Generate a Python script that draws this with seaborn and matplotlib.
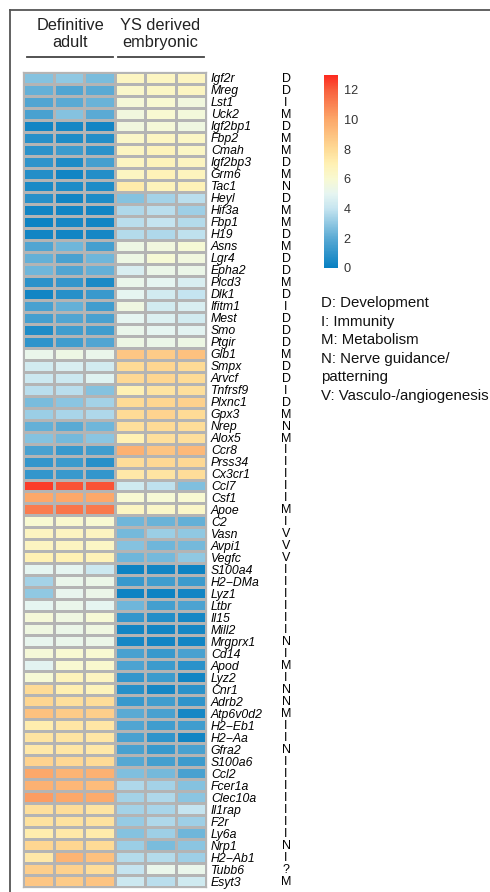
import numpy as np
import pandas as pd
import matplotlib
matplotlib.use("Agg")
import matplotlib.pyplot as plt
import seaborn as sns
from matplotlib.colors import LinearSegmentedColormap
from matplotlib.lines import Line2D
from matplotlib.transforms import blended_transform_factory
from matplotlib import font_manager

genes = ["Igf2r", "Mreg", "Lst1", "Uck2", "Igf2bp1", "Fbp2", "Cmah", "Igf2bp3", "Grm6", "Tac1",
         "Heyl", "Hif3a", "Fbp1", "H19", "Asns", "Lgr4", "Epha2", "Plcd3", "Dlk1", "Ifitm1",
         "Mest", "Smo", "Ptgir", "Glb1", "Smpx", "Arvcf", "Tnfrsf9", "Plxnc1", "Gpx3", "Nrep",
         "Alox5", "Ccr8", "Prss34", "Cx3cr1", "Ccl7", "Csf1", "Apoe", "C2", "Vasn", "Avpi1",
         "Vegfc", "S100a4", "H2\u2212DMa", "Lyz1", "Ltbr", "Il15", "Mill2", "Mrgprx1", "Cd14", "Apod",
         "Lyz2", "Cnr1", "Adrb2", "Atp6v0d2", "H2\u2212Eb1", "H2\u2212Aa", "Gfra2", "S100a6", "Ccl2", "Fcer1a",
         "Clec10a", "Il1rap", "F2r", "Ly6a", "Nrp1", "H2\u2212Ab1", "Tubb6", "Esyt3"]

categories = ["D", "D", "I", "M", "D", "M", "M", "D", "M", "N",
              "D", "M", "M", "D", "M", "D", "D", "M", "D", "I",
              "D", "D", "D", "M", "D", "D", "I", "D", "M", "N",
              "M", "I", "I", "I", "I", "I", "M", "I", "V", "V",
              "V", "I", "I", "I", "I", "I", "I", "N", "I", "M",
              "I", "N", "N", "M", "I", "I", "N", "I", "I", "I",
              "I", "I", "I", "I", "N", "I", "?", "M"]

definitive_adult = [
    [2.8, 3.0, 2.6], [2.2, 1.8, 2.0], [1.8, 2.0, 2.3], [1.6, 2.8, 2.0], [0.3, 0.4, 0.3],
    [0.8, 0.6, 0.7], [0.9, 1.3, 0.9], [1.0, 0.6, 1.5], [0.7, 0.3, 0.7], [0.5, 0.6, 0.6],
    [0.8, 0.3, 0.6], [0.3, 0.3, 0.3], [0.2, 0.4, 0.3], [0.3, 0.3, 0.4], [1.8, 2.4, 1.5],
    [2.2, 1.6, 2.4], [2.4, 1.8, 2.2], [0.9, 1.1, 0.5], [0.3, 0.8, 1.2], [1.6, 2.2, 1.4],
    [1.5, 1.8, 1.6], [0.6, 1.4, 1.4], [1.0, 1.4, 1.8], [5.2, 5.4, 5.2], [4.4, 4.6, 4.4],
    [4.2, 4.2, 4.8], [3.8, 3.8, 2.8], [2.6, 2.9, 3.4], [3.2, 3.5, 3.6], [2.2, 2.0, 2.4],
    [2.8, 2.5, 2.9], [1.6, 1.2, 1.4], [1.1, 1.3, 0.8], [1.1, 1.2, 1.1], [12.6, 12.2, 12.2],
    [10.0, 10.0, 10.0], [11.2, 11.4, 11.3], [6.0, 6.1, 6.0], [6.6, 6.6, 6.6], [6.6, 6.6, 6.4],
    [7.0, 7.0, 6.9], [5.0, 5.0, 4.2], [3.4, 5.2, 5.3], [3.0, 5.1, 5.3], [5.0, 5.2, 5.0],
    [5.8, 5.5, 5.9], [5.5, 5.3, 5.5], [5.1, 5.2, 5.3], [5.8, 6.0, 6.0], [4.9, 6.0, 6.1],
    [5.9, 6.8, 6.6], [8.0, 7.1, 6.8], [8.2, 7.8, 7.9], [9.0, 8.6, 8.5], [7.2, 7.5, 7.5],
    [7.6, 7.6, 7.5], [7.4, 7.5, 7.4], [8.3, 8.1, 8.0], [10.0, 9.5, 9.6], [9.6, 9.4, 9.2],
    [10.3, 10.0, 9.9], [7.8, 7.9, 7.6], [7.7, 7.7, 7.7], [7.2, 7.4, 7.3], [8.2, 8.2, 8.0],
    [7.4, 9.5, 9.0], [8.5, 8.4, 7.9], [8.8, 8.6, 8.9]]

ys_embryonic = [
    [6.5, 6.5, 6.6], [6.2, 6.4, 6.5], [5.8, 6.0, 5.6], [5.6, 6.0, 5.7], [5.6, 5.8, 5.5],
    [6.3, 6.5, 6.4], [6.5, 6.8, 6.4], [6.5, 6.8, 6.6], [6.5, 6.9, 6.7], [7.3, 6.8, 6.9],
    [2.8, 3.4, 3.8], [3.6, 3.8, 3.3], [3.8, 4.0, 3.7], [3.7, 3.6, 3.9], [5.4, 5.6, 5.9],
    [5.4, 5.9, 5.6], [4.6, 5.3, 5.3], [5.2, 5.0, 4.6], [5.0, 4.4, 4.0], [5.5, 4.4, 4.6],
    [5.0, 4.7, 4.4], [5.2, 5.0, 4.9], [5.4, 5.3, 5.4], [8.8, 8.6, 9.0], [8.0, 8.2, 8.0],
    [8.1, 8.2, 8.0], [7.0, 7.6, 7.8], [8.0, 8.2, 8.4], [8.0, 8.3, 8.0], [7.8, 8.0, 7.9],
    [7.0, 7.8, 7.8], [9.6, 8.9, 9.3], [7.9, 8.1, 8.1], [7.4, 7.6, 7.9], [4.3, 3.9, 2.7],
    [6.0, 5.9, 6.0], [6.5, 6.3, 6.3], [2.4, 2.3, 2.2], [2.5, 3.2, 3.0], [2.8, 2.4, 2.5],
    [2.4, 2.5, 3.0], [0.2, 0.3, 0.2], [1.2, 1.4, 1.3], [0.2, 0.2, 0.3], [2.4, 1.5, 1.7],
    [1.1, 0.7, 0.4], [0.3, 0.3, 0.4], [0.4, 0.3, 0.3], [1.6, 1.2, 1.6], [1.7, 1.3, 0.9],
    [1.1, 1.3, 0.3], [0.8, 0.4, 0.9], [1.2, 1.4, 1.0], [2.0, 1.6, 0.4], [1.8, 1.4, 1.4],
    [1.6, 1.0, 0.3], [1.6, 1.2, 1.6], [1.9, 1.5, 1.3], [2.7, 2.5, 1.6], [3.6, 3.4, 2.8],
    [3.4, 3.6, 2.9], [3.4, 3.5, 4.0], [3.1, 3.6, 3.3], [2.8, 3.3, 2.4], [3.2, 2.6, 2.9],
    [3.7, 3.7, 3.3], [4.0, 5.2, 5.2], [4.2, 3.8, 4.3]]

group_labels = ["Definitive\nadult", "YS derived\nembryonic"]
legend_lines = ["D: Development", "I: Immunity", "M: Metabolism",
                "N: Nerve guidance/", "patterning", "V: Vasculo-/angiogenesis"]
cbar_ticks = [0, 2, 4, 6, 8, 10, 12]

plt.rcParams['font.family'] = ['Liberation Sans', 'DejaVu Sans']

installed = {f.name for f in font_manager.fontManager.ttflist}
narrow = "Liberation Sans Narrow" in installed
label_family = ['Liberation Sans Narrow', 'Liberation Sans'] if narrow else ['Liberation Sans']
gene_size = 9.8 if narrow else 8.8
cat_size = 10.8 if narrow else 9.0

W, H = 490, 892
fig = plt.figure(figsize=(W / 100, H / 100), dpi=100)

def fx(px):
    return px / W

def fy(py):
    return 1 - py / H

mat = np.hstack([np.array(definitive_adult), np.array(ys_embryonic)])
df = pd.DataFrame(mat, index=genes, columns=["A1", "A2", "A3", "Y1", "Y2", "Y3"])

cmap = LinearSegmentedColormap.from_list("expr", [
    (0.0, "#0780c2"),
    (2 / 13, "#5aaad4"),
    (4 / 13, "#c6e5f0"),
    (5 / 13, "#e6f5f1"),
    (6 / 13, "#f8f9d2"),
    (7 / 13, "#fff1b4"),
    (8 / 13, "#fedb96"),
    (10 / 13, "#fca86a"),
    (12 / 13, "#f8603d"),
    (1.0, "#fd2a1f"),
])

hx0, hx1, hy0, hy1 = 23, 206, 72, 887
ax = fig.add_axes([fx(hx0), fy(hy1), fx(hx1) - fx(hx0), fy(hy0) - fy(hy1)])
cax = fig.add_axes([fx(324), fy(268), fx(338) - fx(324), fy(75) - fy(268)])

sns.heatmap(df, ax=ax, cmap=cmap, vmin=0, vmax=13, linewidths=0.9, linecolor="#b4b4b4",
            cbar_ax=cax, xticklabels=False, yticklabels=False,
            cbar_kws={"ticks": cbar_ticks})

ax.yaxis.tick_right()
ax.set_yticks(np.arange(len(genes)) + 0.5)
ax.set_yticklabels(genes, fontsize=gene_size, style="italic", rotation=0, family=label_family)
ax.tick_params(axis="y", length=0, pad=3.5)
ax.set_xlabel("")
ax.set_ylabel("")
for s in ax.spines.values():
    s.set_visible(True)
    s.set_color("#b4b4b4")
    s.set_linewidth(0.9)

trans = blended_transform_factory(ax.transAxes, ax.transData)
xcat = (286 - hx0) / (hx1 - hx0)
for i, c in enumerate(categories):
    ax.text(xcat, i + 0.58, c, transform=trans, ha="center", va="center",
            fontsize=cat_size, family=label_family)

cax.tick_params(length=0, labelsize=9.2, pad=4, colors="#333333")
cb = ax.collections[0].colorbar
if cb is not None:
    cb.outline.set_visible(False)
for s in cax.spines.values():
    s.set_visible(False)

# group headers
centers = [70, 160]
for lab, cx in zip(group_labels, centers):
    fig.text(fx(cx), fy(34), lab, ha="center", va="center", fontsize=11.8,
             linespacing=1.15, color="#222222")
fig.add_artist(Line2D([fx(27), fx(113)], [fy(57), fy(57)], color="#444444", lw=1.3))
fig.add_artist(Line2D([fx(118), fx(204)], [fy(57), fy(57)], color="#444444", lw=1.3))

# legend text
ly = 303
for line in legend_lines:
    fig.text(fx(321), fy(ly), line, ha="left", va="center", fontsize=10.8, color="#111111")
    ly += 18.6

# frame
fig.add_artist(Line2D([fx(10), fx(10)], [0, fy(10)], color="#555555", lw=1.3))
fig.add_artist(Line2D([fx(10), 1.0], [fy(10), fy(10)], color="#555555", lw=1.3))

fig.savefig("out.png", dpi=100)
